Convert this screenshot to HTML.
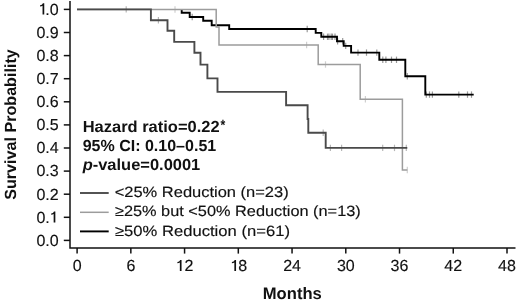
<!DOCTYPE html>
<html><head><meta charset="utf-8"><style>
html,body{margin:0;padding:0;background:#fff;width:520px;height:303px;overflow:hidden}
svg{display:block;will-change:transform}
text{font-family:"Liberation Sans",sans-serif;fill:#111;text-rendering:geometricPrecision}
.tk{font-size:16px;stroke:#111;stroke-width:0.15px}
.ax{stroke:#111;stroke-width:1.5;fill:none}
.cb{stroke:#000;stroke-width:1.9;fill:none}
.cg{stroke:#9c9c9c;stroke-width:1.5;fill:none}
.cd{stroke:#4a4a4a;stroke-width:1.9;fill:none}
.tb{stroke:#000;stroke-width:1.2;stroke-opacity:.4}
.tg{stroke:#a0a0a0;stroke-width:1.2;stroke-opacity:.5}
.td{stroke:#4a4a4a;stroke-width:1.2;stroke-opacity:.4}
.bold{font-weight:bold}
.g1{fill:#111;stroke:none}
.ann{font-size:16px;font-weight:bold}
.leg{font-size:14.8px;stroke:#111;stroke-width:0.15px}
</style></head><body>
<svg width="520" height="303" viewBox="0 0 520 303">
<path d="M70 1 V248 H515.5" class="ax"/>
<text x="58.7" y="14.75" text-anchor="end" class="tk">.0</text>
<path d="M44.25 14.60 V3.20 H42.90 C42.40 4.50 41.40 5.10 40.10 5.20 V6.50 C41.10 6.40 42.00 6.10 42.55 5.70 V14.60 Z" class="g1"/>
<line x1="63.8" x2="70" y1="9.40" y2="9.40" class="ax"/>
<text x="58.7" y="37.85" text-anchor="end" class="tk">0.9</text>
<line x1="63.8" x2="70" y1="32.50" y2="32.50" class="ax"/>
<text x="58.7" y="60.95" text-anchor="end" class="tk">0.8</text>
<line x1="63.8" x2="70" y1="55.60" y2="55.60" class="ax"/>
<text x="58.7" y="84.05" text-anchor="end" class="tk">0.7</text>
<line x1="63.8" x2="70" y1="78.70" y2="78.70" class="ax"/>
<text x="58.7" y="107.15" text-anchor="end" class="tk">0.6</text>
<line x1="63.8" x2="70" y1="101.80" y2="101.80" class="ax"/>
<text x="58.7" y="130.25" text-anchor="end" class="tk">0.5</text>
<line x1="63.8" x2="70" y1="124.90" y2="124.90" class="ax"/>
<text x="58.7" y="153.35" text-anchor="end" class="tk">0.4</text>
<line x1="63.8" x2="70" y1="148.00" y2="148.00" class="ax"/>
<text x="58.7" y="176.45" text-anchor="end" class="tk">0.3</text>
<line x1="63.8" x2="70" y1="171.10" y2="171.10" class="ax"/>
<text x="58.7" y="199.55" text-anchor="end" class="tk">0.2</text>
<line x1="63.8" x2="70" y1="194.20" y2="194.20" class="ax"/>
<text x="36.45" y="222.65" class="tk">0.</text>
<path d="M55.35 222.60 V211.40 H54.00 C53.50 212.70 52.50 213.30 51.20 213.40 V214.70 C52.20 214.60 53.10 214.30 53.65 213.90 V222.60 Z" class="g1"/>
<line x1="63.8" x2="70" y1="217.30" y2="217.30" class="ax"/>
<text x="58.7" y="245.75" text-anchor="end" class="tk">0.0</text>
<line x1="63.8" x2="70" y1="240.40" y2="240.40" class="ax"/>
<text x="77.10" y="271.1" text-anchor="middle" class="tk">0</text>
<line x1="77.10" x2="77.10" y1="248" y2="253.6" class="ax"/>
<text x="130.84" y="271.1" text-anchor="middle" class="tk">6</text>
<line x1="130.84" x2="130.84" y1="248" y2="253.6" class="ax"/>
<text x="184.57" y="271.1" class="tk">2</text>
<path d="M181.55 270.90 V260.00 H180.20 C179.70 261.30 178.70 261.90 177.40 262.00 V263.30 C178.40 263.20 179.30 262.90 179.85 262.50 V270.90 Z" class="g1"/>
<line x1="184.57" x2="184.57" y1="248" y2="253.6" class="ax"/>
<text x="238.31" y="271.1" class="tk">8</text>
<path d="M236.05 270.90 V259.90 H234.70 C234.20 261.20 233.20 261.80 231.90 261.90 V263.20 C232.90 263.10 233.80 262.80 234.35 262.40 V270.90 Z" class="g1"/>
<line x1="238.31" x2="238.31" y1="248" y2="253.6" class="ax"/>
<text x="292.05" y="271.1" text-anchor="middle" class="tk">24</text>
<line x1="292.05" x2="292.05" y1="248" y2="253.6" class="ax"/>
<text x="345.79" y="271.1" text-anchor="middle" class="tk">30</text>
<line x1="345.79" x2="345.79" y1="248" y2="253.6" class="ax"/>
<text x="399.52" y="271.1" text-anchor="middle" class="tk">36</text>
<line x1="399.52" x2="399.52" y1="248" y2="253.6" class="ax"/>
<text x="453.26" y="271.1" text-anchor="middle" class="tk">42</text>
<line x1="453.26" x2="453.26" y1="248" y2="253.6" class="ax"/>
<text x="507.00" y="271.1" text-anchor="middle" class="tk">48</text>
<line x1="507.00" x2="507.00" y1="248" y2="253.6" class="ax"/>
<text transform="translate(15.9,199.8) rotate(-90)" class="bold" style="font-size:16.14px">Survival Probability</text>
<text x="262.8" y="299" class="bold" style="font-size:16.6px">Months</text>
<path d="M181.7 9.4 V12.8 H189.7 V17.0 H203.2 V20.8 H211.7 V25.2 H229.2 V29.0 H315.7 V32.9 H321.3 V36.8 H337.0 V41.3 H343.7 V45.9 H351.1 V52.6 H379.3 V59.8 H405.3 V76.2 H425.3 V94.6 H473.7" class="cb"/>
<line x1="192.2" x2="192.2" y1="13.8" y2="20.2" class="tb"/><line x1="307.2" x2="307.2" y1="25.8" y2="32.2" class="tb"/><line x1="323.6" x2="323.6" y1="33.599999999999994" y2="40.0" class="tb"/><line x1="327.5" x2="327.5" y1="33.599999999999994" y2="40.0" class="tb"/><line x1="328.9" x2="328.9" y1="33.599999999999994" y2="40.0" class="tb"/><line x1="331.2" x2="331.2" y1="33.599999999999994" y2="40.0" class="tb"/><line x1="332.5" x2="332.5" y1="33.599999999999994" y2="40.0" class="tb"/><line x1="335.0" x2="335.0" y1="33.599999999999994" y2="40.0" class="tb"/><line x1="337.6" x2="337.6" y1="38.099999999999994" y2="44.5" class="tb"/><line x1="342.7" x2="342.7" y1="38.099999999999994" y2="44.5" class="tb"/><line x1="345.7" x2="345.7" y1="42.699999999999996" y2="49.1" class="tb"/><line x1="358" x2="358" y1="49.4" y2="55.800000000000004" class="tb"/><line x1="366.5" x2="366.5" y1="49.4" y2="55.800000000000004" class="tb"/><line x1="376.8" x2="376.8" y1="49.4" y2="55.800000000000004" class="tb"/><line x1="382.8" x2="382.8" y1="56.599999999999994" y2="63.0" class="tb"/><line x1="385.9" x2="385.9" y1="56.599999999999994" y2="63.0" class="tb"/><line x1="391.5" x2="391.5" y1="56.599999999999994" y2="63.0" class="tb"/><line x1="396.5" x2="396.5" y1="56.599999999999994" y2="63.0" class="tb"/><line x1="407.3" x2="407.3" y1="73.0" y2="79.4" class="tb"/><line x1="426.3" x2="426.3" y1="91.39999999999999" y2="97.8" class="tb"/><line x1="429.5" x2="429.5" y1="91.39999999999999" y2="97.8" class="tb"/><line x1="432.4" x2="432.4" y1="91.39999999999999" y2="97.8" class="tb"/><line x1="458.8" x2="458.8" y1="91.39999999999999" y2="97.8" class="tb"/><line x1="467.5" x2="467.5" y1="91.39999999999999" y2="97.8" class="tb"/><line x1="471.5" x2="471.5" y1="91.39999999999999" y2="97.8" class="tb"/>
<path d="M77 9.4 H216.2 V27.0 H219.0 V45.0 H318.2 V64.5 H360.2 V99.3 H402.4 V170 H407.3" class="cg"/>
<line x1="175" x2="175" y1="6.3" y2="12.7" class="tg"/><line x1="306.6" x2="306.6" y1="41.8" y2="48.2" class="tg"/><line x1="325.5" x2="325.5" y1="61.3" y2="67.7" class="tg"/><line x1="365.4" x2="365.4" y1="96.1" y2="102.5" class="tg"/><line x1="407.3" x2="407.3" y1="166.8" y2="173.2" class="tg"/>
<path d="M77 9.4 H150.9 V20.2 H167.5 V30.7 H174.2 V41.9 H194.4 V52.8 H200.5 V64.6 H207.4 V78.4 H217.5 V91.9 H286.1 V105.3 H307.6 V119 H308.3 V132.7 H325.7 V147.9 H407.3" class="cd"/>
<line x1="126.2" x2="126.2" y1="6.2" y2="12.600000000000001" class="td"/><line x1="158.4" x2="158.4" y1="17.0" y2="23.4" class="td"/><line x1="323.2" x2="323.2" y1="129.5" y2="135.89999999999998" class="td"/><line x1="330.4" x2="330.4" y1="144.70000000000002" y2="151.1" class="td"/><line x1="341.6" x2="341.6" y1="144.70000000000002" y2="151.1" class="td"/><line x1="382.7" x2="382.7" y1="144.70000000000002" y2="151.1" class="td"/><line x1="394.5" x2="394.5" y1="144.70000000000002" y2="151.1" class="td"/><line x1="406.3" x2="406.3" y1="144.70000000000002" y2="151.1" class="td"/>
<text x="82.7" y="131.6" class="ann" textLength="136.87" lengthAdjust="spacingAndGlyphs">Hazard ratio=0.22</text><text x="220.4" y="129.8" class="bold" style="font-size:15px" textLength="4.8" lengthAdjust="spacingAndGlyphs">*</text>
<text x="82.7" y="150.6" class="ann" textLength="133.5" lengthAdjust="spacingAndGlyphs">95% CI: 0.10–0.51</text>
<text x="82.66" y="169.6" class="ann" textLength="117.6" lengthAdjust="spacingAndGlyphs"><tspan font-style="italic">p</tspan>-value=0.0001</text>
<line x1="80" x2="108.7" y1="193" y2="193" class="cd"/>
<line x1="80" x2="108.7" y1="212.3" y2="212.3" class="cg"/>
<line x1="80" x2="108.7" y1="231.4" y2="231.4" class="cb"/>
<text x="114.66" y="196.7" class="leg" textLength="174.0" lengthAdjust="spacingAndGlyphs">&lt;25% Reduction (n=23)</text>
<text x="114.95" y="216.1" class="leg" textLength="245.8" lengthAdjust="spacingAndGlyphs">≥25% but &lt;50% Reduction (n=13)</text>
<text x="114.94" y="235.9" class="leg" textLength="175.0" lengthAdjust="spacingAndGlyphs">≥50% Reduction (n=61)</text>
</svg>
</body></html>
